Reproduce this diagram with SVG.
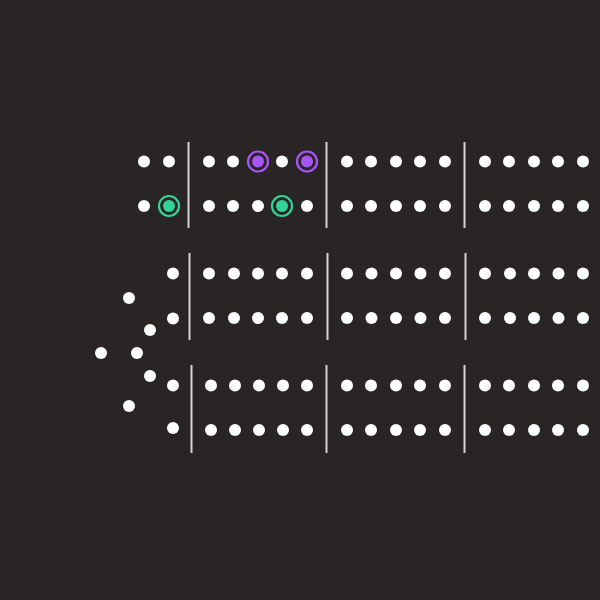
<svg xmlns="http://www.w3.org/2000/svg" width="600" height="600" viewBox="0 0 600 600">
<style>
.d{fill:#ffffff}
.bar{stroke:#d6d3d1;stroke-width:2}
.pr{fill:none;stroke:#a855f7;stroke-width:2.2}
.pd{fill:#a855f7}
.gr{fill:none;stroke:#34d399;stroke-width:2.2}
.gd{fill:#34d399}
</style>
<defs>
<circle id="dot" r="6"/>
</defs>
<rect width="600" height="600" fill="#292524"/>
<g id="bars">
<line class="bar" x1="188.5" y1="142" x2="188.5" y2="228"/>
<line class="bar" x1="326.5" y1="142" x2="326.5" y2="228"/>
<line class="bar" x1="464.5" y1="142" x2="464.5" y2="228"/>
<line class="bar" x1="189.5" y1="253" x2="189.5" y2="340"/>
<line class="bar" x1="327.5" y1="253" x2="327.5" y2="340"/>
<line class="bar" x1="465.5" y1="253" x2="465.5" y2="340"/>
<line class="bar" x1="191.5" y1="365" x2="191.5" y2="453"/>
<line class="bar" x1="326.5" y1="365" x2="326.5" y2="453"/>
<line class="bar" x1="464.5" y1="365" x2="464.5" y2="453"/>
</g>
<g id="block1" class="d">
<use href="#dot" x="144" y="161.5"/><use href="#dot" x="169" y="161.5"/>
<use href="#dot" x="209" y="161.5"/><use href="#dot" x="233" y="161.5"/><use href="#dot" x="282" y="161.5"/>
<use href="#dot" x="347" y="161.5"/><use href="#dot" x="371" y="161.5"/><use href="#dot" x="396" y="161.5"/><use href="#dot" x="420" y="161.5"/><use href="#dot" x="445" y="161.5"/>
<use href="#dot" x="485" y="161.5"/><use href="#dot" x="509" y="161.5"/><use href="#dot" x="534" y="161.5"/><use href="#dot" x="558" y="161.5"/><use href="#dot" x="583" y="161.5"/>
<use href="#dot" x="144" y="206"/>
<use href="#dot" x="209" y="206"/><use href="#dot" x="233" y="206"/><use href="#dot" x="258" y="206"/><use href="#dot" x="307" y="206"/>
<use href="#dot" x="347" y="206"/><use href="#dot" x="371" y="206"/><use href="#dot" x="396" y="206"/><use href="#dot" x="420" y="206"/><use href="#dot" x="445" y="206"/>
<use href="#dot" x="485" y="206"/><use href="#dot" x="509" y="206"/><use href="#dot" x="534" y="206"/><use href="#dot" x="558" y="206"/><use href="#dot" x="583" y="206"/>
</g>
<g id="highlight-purple-1"><circle class="pr" cx="258" cy="161.5" r="10"/><circle class="pd" cx="258" cy="161.5" r="6"/></g>
<g id="highlight-purple-2"><circle class="pr" cx="307" cy="161.5" r="10"/><circle class="pd" cx="307" cy="161.5" r="6"/></g>
<g id="highlight-green-1"><circle class="gr" cx="169" cy="206" r="10"/><circle class="gd" cx="169" cy="206" r="6"/></g>
<g id="highlight-green-2"><circle class="gr" cx="282" cy="206" r="10"/><circle class="gd" cx="282" cy="206" r="6"/></g>
<g id="block2" class="d">
<use href="#dot" x="173" y="273.5"/>
<use href="#dot" x="209" y="273.5"/><use href="#dot" x="234" y="273.5"/><use href="#dot" x="258" y="273.5"/><use href="#dot" x="282" y="273.5"/><use href="#dot" x="307" y="273.5"/>
<use href="#dot" x="347" y="273.5"/><use href="#dot" x="371.5" y="273.5"/><use href="#dot" x="396" y="273.5"/><use href="#dot" x="420.5" y="273.5"/><use href="#dot" x="445" y="273.5"/>
<use href="#dot" x="485" y="273.5"/><use href="#dot" x="510" y="273.5"/><use href="#dot" x="534" y="273.5"/><use href="#dot" x="558.5" y="273.5"/><use href="#dot" x="583" y="273.5"/>
<use href="#dot" x="173" y="318.5"/>
<use href="#dot" x="209" y="318"/><use href="#dot" x="234" y="318"/><use href="#dot" x="258" y="318"/><use href="#dot" x="282" y="318"/><use href="#dot" x="307" y="318"/>
<use href="#dot" x="347" y="318"/><use href="#dot" x="371.5" y="318"/><use href="#dot" x="396" y="318"/><use href="#dot" x="420.5" y="318"/><use href="#dot" x="445" y="318"/>
<use href="#dot" x="485" y="318"/><use href="#dot" x="510" y="318"/><use href="#dot" x="534" y="318"/><use href="#dot" x="558.5" y="318"/><use href="#dot" x="583" y="318"/>
</g>
<g id="block3" class="d">
<use href="#dot" x="173" y="385.5"/>
<use href="#dot" x="211" y="385.5"/><use href="#dot" x="235" y="385.5"/><use href="#dot" x="259" y="385.5"/><use href="#dot" x="283" y="385.5"/><use href="#dot" x="307" y="385.5"/>
<use href="#dot" x="347" y="385.5"/><use href="#dot" x="371" y="385.5"/><use href="#dot" x="396" y="385.5"/><use href="#dot" x="420" y="385.5"/><use href="#dot" x="445" y="385.5"/>
<use href="#dot" x="485" y="385.5"/><use href="#dot" x="509" y="385.5"/><use href="#dot" x="534" y="385.5"/><use href="#dot" x="558" y="385.5"/><use href="#dot" x="583" y="385.5"/>
<use href="#dot" x="173" y="428"/>
<use href="#dot" x="211" y="430"/><use href="#dot" x="235" y="430"/><use href="#dot" x="259" y="430"/><use href="#dot" x="283" y="430"/><use href="#dot" x="307" y="430"/>
<use href="#dot" x="347" y="430"/><use href="#dot" x="371" y="430"/><use href="#dot" x="396" y="430"/><use href="#dot" x="420" y="430"/><use href="#dot" x="445" y="430"/>
<use href="#dot" x="485" y="430"/><use href="#dot" x="509" y="430"/><use href="#dot" x="534" y="430"/><use href="#dot" x="558" y="430"/><use href="#dot" x="583" y="430"/>
</g>
<g id="fan" class="d">
<use href="#dot" x="129" y="298"/>
<use href="#dot" x="150" y="330"/>
<use href="#dot" x="101" y="353"/>
<use href="#dot" x="137" y="353"/>
<use href="#dot" x="150" y="376"/>
<use href="#dot" x="129" y="406"/>
</g>
</svg>
